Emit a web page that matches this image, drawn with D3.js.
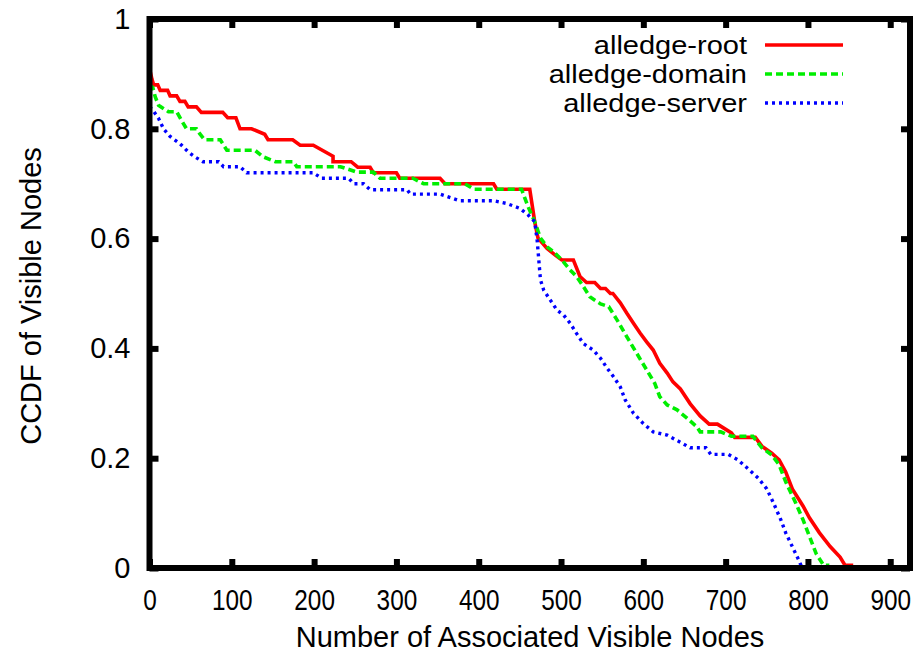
<!DOCTYPE html>
<html>
<head>
<meta charset="utf-8">
<script src="https://cdn.jsdelivr.net/npm/d3@7"></script>
<style>
  html, body { margin: 0; padding: 0; background: #fff; }
  svg { display: block; }
  text { font-family: "Liberation Sans", Arial, Helvetica, sans-serif; fill: #000; }
</style>
</head>
<body>
<svg id="chart" width="919" height="653"></svg>
<script>
// CCDF of visible nodes for the three alledge variants: [count, ccdf]
const alledgeRoot = [
  [0, 0.91], [3, 0.89], [5, 0.88], [10, 0.88], [13, 0.87], [22, 0.87], [25, 0.86], [33, 0.86],
  [37, 0.85], [43, 0.85], [47, 0.84], [57, 0.84], [63, 0.83], [89, 0.83], [95, 0.82], [105, 0.82],
  [110, 0.80], [124, 0.80], [140, 0.79], [144, 0.78], [174, 0.78], [183, 0.77], [199, 0.77],
  [223, 0.75], [223, 0.74], [245, 0.74], [253, 0.73], [268, 0.73], [272, 0.72], [300, 0.72],
  [304, 0.71], [353, 0.71], [359, 0.70], [418, 0.70], [422, 0.69], [462, 0.69], [468, 0.631],
  [472, 0.601], [483, 0.582], [493, 0.57], [501, 0.561], [515, 0.561], [523, 0.531], [531, 0.52],
  [541, 0.52], [548, 0.509], [554, 0.509], [560, 0.50], [563, 0.50], [572, 0.483], [580, 0.464],
  [588, 0.446], [596, 0.428], [604, 0.412], [612, 0.397], [620, 0.373], [629, 0.355], [636, 0.339],
  [645, 0.326], [657, 0.299], [669, 0.277], [680, 0.262], [690, 0.262], [707, 0.246], [711, 0.238],
  [736, 0.238], [744, 0.222], [756, 0.209], [765, 0.197], [773, 0.175], [781, 0.144], [794, 0.113],
  [802, 0.091], [814, 0.064], [827, 0.039], [839, 0.02], [845, 0.005], [855, 0.005]
];
const alledgeDomain = [
  [0, 0.88], [4, 0.875], [7, 0.858], [11, 0.843], [23, 0.831], [33, 0.831], [41, 0.81], [45, 0.80],
  [57, 0.80], [61, 0.791], [67, 0.78], [86, 0.78], [94, 0.761], [128, 0.761], [138, 0.749],
  [153, 0.74], [175, 0.74], [179, 0.731], [232, 0.731], [252, 0.721], [272, 0.721], [280, 0.71],
  [320, 0.71], [333, 0.70], [383, 0.70], [394, 0.69], [452, 0.69], [460, 0.658], [468, 0.631],
  [475, 0.601], [483, 0.585], [491, 0.576], [501, 0.561], [511, 0.543], [519, 0.531], [527, 0.513],
  [535, 0.494], [548, 0.481], [558, 0.476], [568, 0.452], [580, 0.421], [592, 0.391], [604, 0.361],
  [614, 0.336], [620, 0.312], [629, 0.297], [641, 0.288], [653, 0.273], [665, 0.257], [669, 0.248],
  [694, 0.248], [707, 0.24], [733, 0.24], [744, 0.219], [756, 0.206], [765, 0.188], [773, 0.157],
  [785, 0.119], [794, 0.088], [802, 0.057], [810, 0.026], [819, 0.005], [826, 0.005]
];
const alledgeServer = [
  [0, 0.84], [4, 0.834], [11, 0.819], [17, 0.80], [25, 0.786], [37, 0.773], [47, 0.758], [55, 0.749],
  [65, 0.74], [84, 0.74], [90, 0.731], [110, 0.731], [118, 0.72], [199, 0.72], [209, 0.71],
  [242, 0.71], [248, 0.70], [260, 0.70], [268, 0.689], [313, 0.689], [317, 0.681], [353, 0.681],
  [369, 0.673], [377, 0.669], [418, 0.669], [434, 0.664], [450, 0.655], [460, 0.643], [468, 0.631],
  [471, 0.597], [473, 0.561], [475, 0.525], [479, 0.506], [487, 0.488], [495, 0.47], [503, 0.461],
  [511, 0.446], [519, 0.427], [527, 0.409], [539, 0.397], [548, 0.382], [556, 0.364], [564, 0.348],
  [572, 0.33], [578, 0.306], [588, 0.282], [600, 0.263], [612, 0.248], [629, 0.242], [645, 0.229],
  [657, 0.219], [676, 0.219], [682, 0.207], [703, 0.207], [715, 0.197], [727, 0.181], [740, 0.163],
  [750, 0.144], [758, 0.119], [767, 0.088], [773, 0.064], [781, 0.039], [789, 0.014], [792, 0.003]
];

const seriesNames = ["alledge-root", "alledge-domain", "alledge-server"];
const seriesData = [alledgeRoot, alledgeDomain, alledgeServer];
const seriesColors = ["#ff0000", "#00ee00", "#0000ff"];
const seriesDash = [null, "7,4", "3,4"];
const seriesWidth = [3.6, 3.6, 3.4];

const xTicks = [0, 100, 200, 300, 400, 500, 600, 700, 800, 900];
const yTicks = [0, 0.2, 0.4, 0.6, 0.8, 1];
const xTitle = "Number of Associated Visible Nodes";
const yTitle = "CCDF of Visible Nodes";

const svg = d3.select("#chart");
const plotLeft = 149.5, plotRight = 910, plotTop = 19, plotBottom = 568;
const fontSize = 29;

const x = d3.scaleLinear().domain([0, 924]).range([plotLeft, plotRight]);
const y = d3.scaleLinear().domain([0, 1]).range([plotBottom, plotTop]);

const fmtY = d => (d === 0 || d === 1) ? String(d) : d.toFixed(1);

// bottom axis with labels, ticks pointing inward
const gx = svg.append("g").attr("transform", `translate(0,${plotBottom})`)
  .call(d3.axisBottom(x).tickValues(xTicks).tickSizeInner(-9).tickSizeOuter(0).tickPadding(21).tickFormat(d3.format("d")));
const gy = svg.append("g").attr("transform", `translate(${plotLeft},0)`)
  .call(d3.axisLeft(y).tickValues(yTicks).tickSizeInner(-9).tickSizeOuter(0).tickPadding(19).tickFormat(fmtY));
// mirrored ticks on top and right
const gt = svg.append("g").attr("transform", `translate(0,${plotTop})`)
  .call(d3.axisTop(x).tickValues(xTicks).tickSizeInner(-9).tickSizeOuter(0).tickFormat(""));
const gr = svg.append("g").attr("transform", `translate(${plotRight},0)`)
  .call(d3.axisRight(y).tickValues(yTicks).tickSizeInner(-9).tickSizeOuter(0).tickFormat(""));

[gx, gy, gt, gr].forEach(g => {
  g.select(".domain").remove();
  g.selectAll(".tick line").attr("stroke", "#000").attr("stroke-width", 6);
  g.selectAll(".tick text").attr("font-size", fontSize).attr("font-family", "Liberation Sans, Arial, sans-serif");
});
// x tick numerals are set a little narrower
gx.selectAll(".tick text").attr("transform", "scale(0.84,1)");

// series lines
const line = d3.line().x(d => x(d[0])).y(d => y(d[1]));
seriesData.forEach((data, i) => {
  svg.append("path")
    .datum(data)
    .attr("d", line)
    .attr("fill", "none")
    .attr("stroke", seriesColors[i])
    .attr("stroke-width", seriesWidth[i])
    .attr("stroke-dasharray", seriesDash[i])
    .attr("stroke-linejoin", "miter");
});

// plot frame
svg.append("rect")
  .attr("x", plotLeft).attr("y", plotTop)
  .attr("width", plotRight - plotLeft).attr("height", plotBottom - plotTop)
  .attr("fill", "none").attr("stroke", "#000").attr("stroke-width", 6);

// legend: compact rows; labels keep the full width of the axis-title size
const legendRows = [45, 74, 103];
const legendFont = 25;
seriesNames.forEach((name, i) => {
  const t = svg.append("text")
    .attr("x", 747).attr("y", legendRows[i]).attr("dy", "0.36em")
    .attr("text-anchor", "end").attr("font-size", legendFont)
    .text(name);
  const w = t.node().getComputedTextLength() * fontSize / legendFont;
  t.attr("textLength", w).attr("lengthAdjust", "spacingAndGlyphs");
  svg.append("line")
    .attr("x1", 765).attr("x2", 843)
    .attr("y1", legendRows[i]).attr("y2", legendRows[i])
    .attr("stroke", seriesColors[i])
    .attr("stroke-width", seriesWidth[i])
    .attr("stroke-dasharray", seriesDash[i]);
});

// axis titles
svg.append("text")
  .attr("x", 530).attr("y", 647)
  .attr("text-anchor", "middle").attr("font-size", fontSize)
  .text(xTitle);
svg.append("text")
  .attr("transform", "translate(41,296) rotate(-90)")
  .attr("text-anchor", "middle").attr("font-size", fontSize)
  .text(yTitle);
</script>
</body>
</html>
